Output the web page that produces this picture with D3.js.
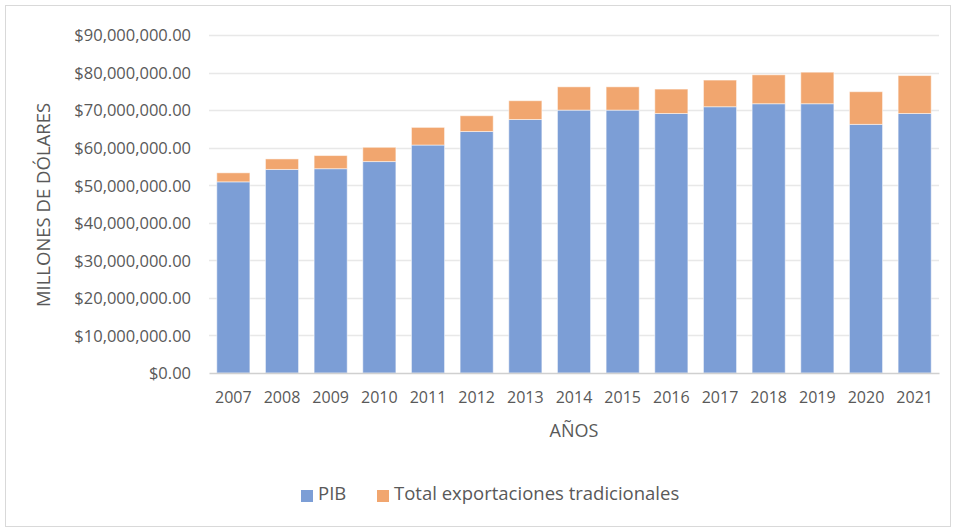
<!DOCTYPE html>
<html lang="es">
<head>
<meta charset="utf-8">
<title>PIB y exportaciones</title>
<script src="https://cdn.jsdelivr.net/npm/d3@7"></script>
<style>
  body { margin: 0; background: white; }
  text { font-family: 'Open Sans', 'Liberation Sans', sans-serif; fill: #595959; }
</style>
</head>
<body>
<div id="chart"></div>
<script>
// data
var years = ["2007","2008","2009","2010","2011","2012","2013","2014","2015","2016","2017","2018","2019","2020","2021"];
var pib = [50900000, 54200000, 54400000, 56300000, 60700000, 64300000, 67500000, 70000000, 70000000, 69100000, 70900000, 71700000, 71700000, 66200000, 69100000];
var exportaciones = [2400000, 2800000, 3500000, 3800000, 4700000, 4200000, 5000000, 6200000, 6200000, 6500000, 7100000, 7700000, 8400000, 8700000, 10100000];
var yTicks = [0, 10000000, 20000000, 30000000, 40000000, 50000000, 60000000, 70000000, 80000000, 90000000];
var seriesNames = ["PIB", "Total exportaciones tradicionales"];
var seriesColors = ["#7c9ed6", "#f1a66f"];

var w = 956, h = 531;
var margin = {top: 35, left: 209, right: 17, bottom: 158};

var svg = d3.select("#chart").append("svg")
    .attr("width", w)
    .attr("height", h);

// chart frame
svg.append("rect")
    .attr("x", 5.5).attr("y", 5.5)
    .attr("width", w - 11).attr("height", h - 10)
    .attr("fill", "white")
    .attr("stroke", "#d9d9d9");

var x = d3.scaleBand()
    .domain(years)
    .range([margin.left, w - margin.right])
    .paddingInner(0.32)
    .paddingOuter(0.16);

var y = d3.scaleLinear()
    .domain([0, 90000000])
    .range([h - margin.bottom, margin.top]);

var fmt = function(v) { return "$" + d3.format(",.2f")(v); };

// gridlines
svg.append("g")
    .selectAll("line")
    .data(yTicks.slice(1))
    .enter().append("line")
    .attr("x1", margin.left).attr("x2", w - margin.right)
    .attr("y1", function(d) { return Math.round(y(d)) + 0.5; })
    .attr("y2", function(d) { return Math.round(y(d)) + 0.5; })
    .attr("stroke", "#e8e8e8")
    .attr("stroke-width", 1.5);

// y axis labels
var yAxis = svg.append("g")
    .attr("transform", "translate(" + (margin.left - 18) + ",0)")
    .call(d3.axisLeft(y).tickValues(yTicks).tickFormat(fmt).tickSize(0).tickPadding(0));
yAxis.select(".domain").remove();
yAxis.selectAll("text")
    .style("font-size", "16.5px")
    .style("fill", "#595959")
    .attr("dy", "0.35em");

// stacked bars
var rows = years.map(function(yr, i) { return {year: yr, pib: pib[i], exp: exportaciones[i]}; });
var stack = d3.stack().keys(["pib", "exp"])(rows);

svg.append("g")
    .selectAll("g")
    .data(stack)
    .enter().append("g")
    .attr("fill", function(d, i) { return seriesColors[i]; })
    .selectAll("rect")
    .data(function(d) { return d; })
    .enter().append("rect")
    .attr("x", function(d) { return x(d.data.year); })
    .attr("y", function(d) { return y(d[1]); })
    .attr("width", x.bandwidth())
    .attr("height", function(d) { return y(d[0]) - y(d[1]); })
    .attr("stroke", "white")
    .attr("stroke-opacity", 0.5)
    .attr("stroke-width", 1);

// x axis
var xAxis = svg.append("g")
    .attr("transform", "translate(0," + (h - margin.bottom) + ")")
    .call(d3.axisBottom(x).tickSize(0).tickPadding(0));
xAxis.select(".domain").attr("stroke", "#d0d0d0").attr("stroke-width", 1.5);
xAxis.selectAll("text")
    .attr("y", 30)
    .attr("dy", 0)
    .style("font-size", "16px")
    .style("fill", "#595959");

// axis titles
svg.append("text")
    .attr("x", 574)
    .attr("y", 437)
    .attr("text-anchor", "middle")
    .style("font-size", "18px")
    .text("AÑOS");

svg.append("text")
    .attr("transform", "translate(50,205) rotate(-90)")
    .attr("text-anchor", "middle")
    .style("font-size", "18.5px")
    .text("MILLONES DE DÓLARES");

// legend
var legend = svg.append("g");
var legendX = [301, 377];
seriesNames.forEach(function(name, i) {
  legend.append("rect")
      .attr("x", legendX[i]).attr("y", 490)
      .attr("width", 12).attr("height", 12)
      .attr("fill", seriesColors[i]);
  legend.append("text")
      .attr("x", legendX[i] + 17).attr("y", 498)
      .attr("dy", "0.1em")
      .style("font-size", "18.5px")
      .text(name);
});
</script>
</body>
</html>
